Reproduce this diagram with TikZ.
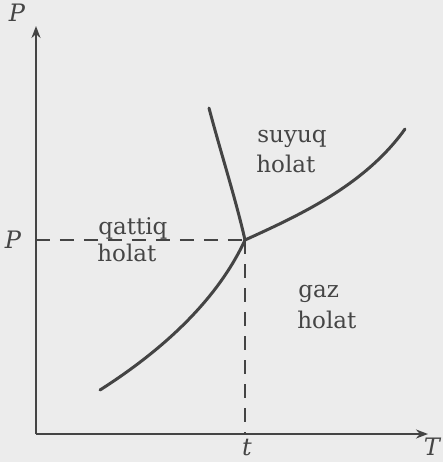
\documentclass[tikz,border=0pt]{standalone}
\usepackage{fontspec}
\setmainfont{DejaVu Serif}
\usetikzlibrary{arrows.meta}
\definecolor{bg}{HTML}{ECECEC}
\definecolor{ink}{HTML}{444444}
\definecolor{txt}{HTML}{454545}
\begin{document}
\begin{tikzpicture}[x=0.5pt,y=-0.5pt,
  axis/.style={draw=ink,line width=1pt,-{Stealth[length=6pt,width=4.5pt]}},
  curve/.style={draw=ink,line width=1.5pt,line cap=round},
  guide/.style={draw=ink,line width=1pt,dash pattern=on 7pt off 5pt},
  lbl/.style={text=txt,font=\fontsize{11.5}{15}\selectfont,align=left,inner sep=0pt},
  axlbl/.style={text=txt,font=\fontsize{12}{14}\selectfont\itshape,inner sep=0pt}]
\fill[bg] (0,0) rectangle (443,462);
\useasboundingbox (0,0) rectangle (443,462);
\coordinate (O) at (36,434);
\coordinate (Ytop) at (36,26);
\coordinate (Xend) at (428,434);
\coordinate (Tp) at (245,240);
\coordinate (Pax) at (36,240);
\coordinate (tax) at (245,434);
\coordinate (Ms) at (209,108);
\coordinate (Ve) at (405,129);
\coordinate (Ss) at (100,390);
\draw[axis] (O) -- (Ytop);
\draw[axis] (O) -- (Xend);
\draw[guide] (Pax) -- (Tp);
\draw[guide] (Tp) -- (tax);
\draw[curve] (Ss) .. controls (155,355) and (215,305) .. (Tp);
\draw[curve] (Ms) .. controls (220,150) and (236,200) .. (Tp);
\draw[curve] (Tp) .. controls (300,215) and (365,185) .. (Ve);
\node[axlbl] (Plabel) at (17,13) {P};
\node[axlbl] (Pmid) at (13,240) {P};
\node[axlbl,anchor=base] (tlabel) at (247,455) {t};
\node[axlbl,anchor=base] (Tlabel) at (432,455) {T};
\node[lbl,anchor=base west] (q1) at (98,234) {qattiq};
\node[lbl,anchor=base west] (q2) at (97,261) {holat};
\node[lbl,anchor=base west] (s1) at (257,142) {suyuq};
\node[lbl,anchor=base west] (s2) at (256,172) {holat};
\node[lbl,anchor=base west] (g1) at (298,297) {gaz};
\node[lbl,anchor=base west] (g2) at (297,328) {holat};
\end{tikzpicture}
\end{document}
